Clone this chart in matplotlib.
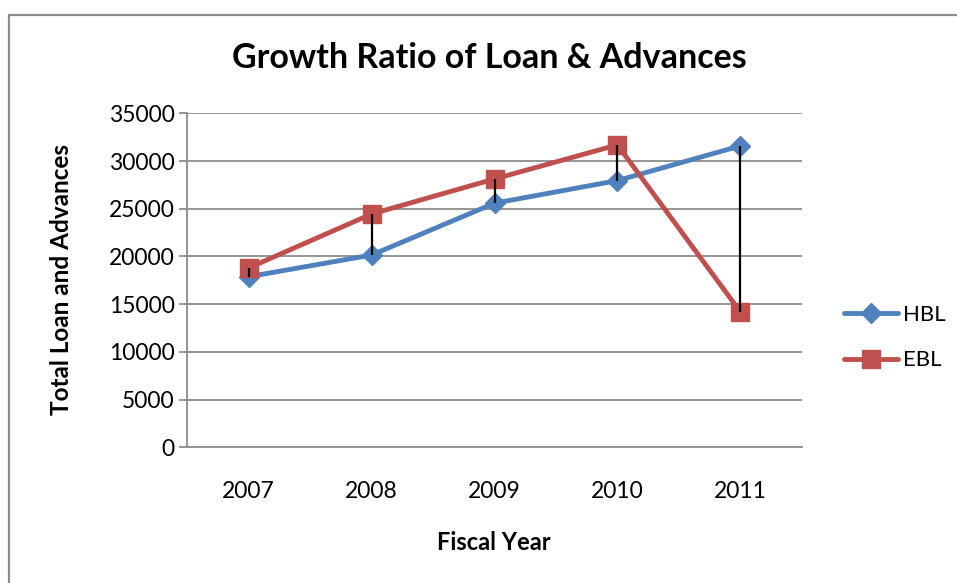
import matplotlib
matplotlib.use("Agg")
import matplotlib.pyplot as plt
from matplotlib.patches import Rectangle

# Loan & advances by fiscal year
years = ["2007", "2008", "2009", "2010", "2011"]
hbl = [17880, 20150, 25580, 27950, 31580]
ebl = [18800, 24450, 28120, 31690, 14210]

title = "Growth Ratio of Loan & Advances"
xlabel = "Fiscal Year"
ylabel = "Total Loan and Advances"
yticks = [0, 5000, 10000, 15000, 20000, 25000, 30000, 35000]

plt.rcParams["font.family"] = ["Lato", "DejaVu Sans"]

W, H = 957, 583
fig = plt.figure(figsize=(W / 100, H / 100), dpi=100)
fig.patch.set_facecolor("white")

# chart frame
fig.add_artist(Rectangle((9 / W, -0.05), 1.0, 1 - 15 / H + 0.05,
                         transform=fig.transFigure, fill=False,
                         edgecolor="#8c8c8c", linewidth=1.6, zorder=0))

left, right = 187.3 / W, 801.7 / W
bottom, top = 1 - 447.3 / H, 1 - 113.3 / H
ax = fig.add_axes([left, bottom, right - left, top - bottom])

x = list(range(len(years)))
grid_color = "#8c8c8c"

ax.set_xlim(-0.5, len(years) - 0.5)
ax.set_ylim(0, 35000)
ax.set_yticks(yticks)
ax.set_yticklabels([str(v) for v in yticks])
ax.set_xticks(x)
ax.set_xticklabels(years)
ax.yaxis.grid(True, color=grid_color, linewidth=1.3)
ax.set_axisbelow(True)

for side in ("top", "right"):
    ax.spines[side].set_visible(False)
for side in ("left", "bottom"):
    ax.spines[side].set_color(grid_color)
    ax.spines[side].set_linewidth(1.3)

ax.tick_params(axis="y", direction="out", length=6, width=1.3, color=grid_color,
               pad=3, labelsize=16.5, labelcolor="black")
ax.tick_params(axis="x", length=0, pad=24, labelsize=16.5, labelcolor="black")

blue = "#4F81BD"
red = "#C0504D"
ax.plot(x, hbl, color=blue, linewidth=3.5, marker="D", markersize=10.5,
        markeredgecolor=blue, label="HBL", zorder=3, solid_capstyle="round")
ax.plot(x, ebl, color=red, linewidth=3.5, marker="s", markersize=13.5,
        markeredgecolor=red, label="EBL", zorder=3, solid_capstyle="round")

# high-low lines between the two series
lows = [min(a, b) for a, b in zip(hbl, ebl)]
highs = [max(a, b) for a, b in zip(hbl, ebl)]
ax.vlines(x, lows, highs, colors="black", linewidth=1.6, zorder=4)

fig.text(489 / W, 1 - 58 / H, title, ha="center", va="center",
         fontsize=24.5, fontweight="bold")
fig.text(494 / W, 1 - 542 / H, xlabel, ha="center", va="center",
         fontsize=17, fontweight="bold")
fig.text(62 / W, 1 - 280 / H, ylabel, ha="center", va="center",
         rotation=90, fontsize=17.5, fontweight="bold")

leg = fig.legend(loc="center left", bbox_to_anchor=(835 / W, 1 - 337.5 / H),
                 frameon=False, fontsize=16, handlelength=2.45,
                 labelspacing=1.15, handletextpad=0.2, borderaxespad=0)

fig.savefig("out.png", dpi=100, facecolor="white")
